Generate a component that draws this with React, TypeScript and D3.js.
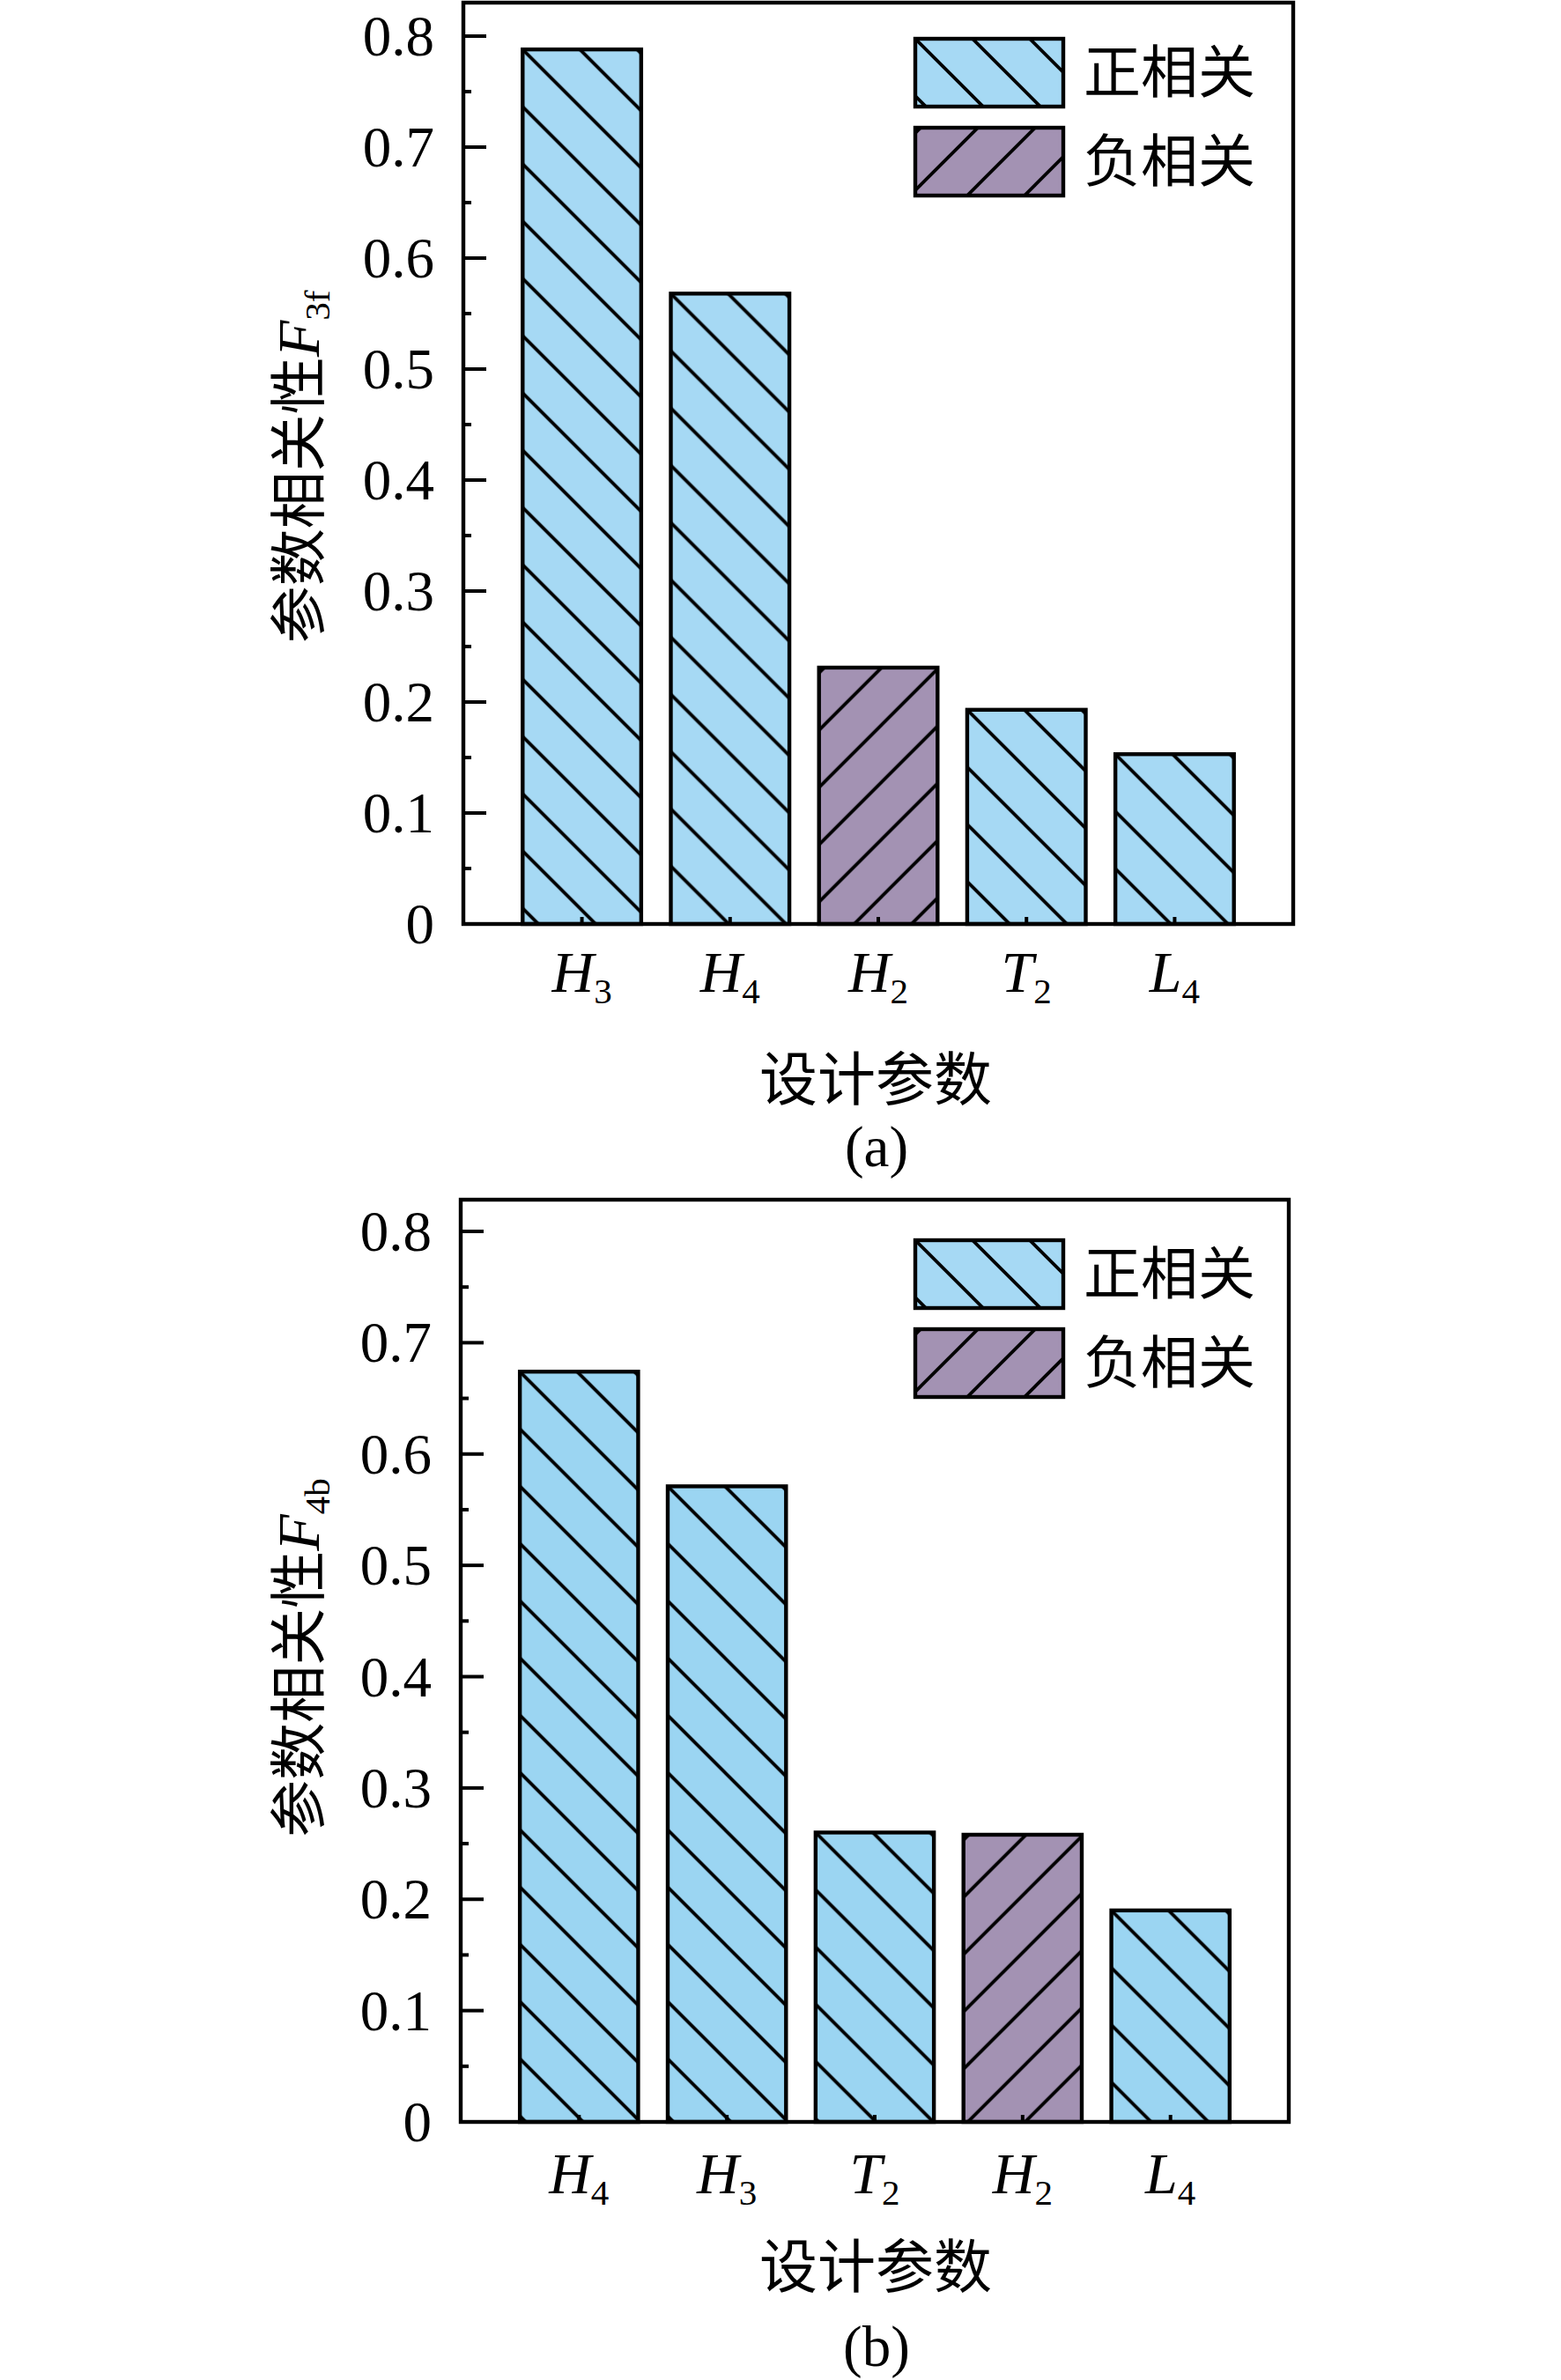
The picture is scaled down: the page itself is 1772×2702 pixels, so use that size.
import { useEffect, useRef } from "react";
import * as d3 from "d3";

// data
const categoriesA = ["H3", "H4", "H2", "T2", "L4"];
const valuesA = [0.788, 0.568, 0.231, 0.193, 0.153];
const signsA = ["pos", "pos", "neg", "pos", "pos"];

const categoriesB = ["H4", "H3", "T2", "H2", "L4"];
const valuesB = [0.674, 0.571, 0.26, 0.258, 0.19];
const signsB = ["pos", "pos", "pos", "neg", "pos"];

const yTicks = [0, 0.1, 0.2, 0.3, 0.4, 0.5, 0.6, 0.7, 0.8];
const yMinorTicks = [0.05, 0.15, 0.25, 0.35, 0.45, 0.55, 0.65, 0.75];
const legendLabels = ["正相关", "负相关"];
const legendSigns = ["pos", "neg"];
const yTitleMain = "参数相关性";
const xTitle = "设计参数";

const SERIF = "'Liberation Serif', 'Times New Roman', serif";
const CJK = "'Noto Sans CJK SC', 'Noto Sans CJK JP', sans-serif";

export default function App() {
  const svgRef = useRef<SVGSVGElement>(null);

  useEffect(() => {
    const svg = d3.select(svgRef.current);
    svg.selectAll("*").remove();
    const defs = svg.append("defs");

    const panels = [
      {
        key: "a", cats: categoriesA, values: valuesA, signs: signsA, sub: "3f", tag: "(a)",
        left: 526, right: 1468, top: 3, axisY: 1049, y08: 41, legendTop: 44,
        catBase: 1126, xTitleY: 1220, tagBase: 1324, yTitleY: 530,
        posColor: "#a6d9f4",
      },
      {
        key: "b", cats: categoriesB, values: valuesB, signs: signsB, sub: "4b", tag: "(b)",
        left: 523, right: 1463, top: 1362, axisY: 2409, y08: 1398, legendTop: 1408,
        catBase: 2490, xTitleY: 2568, tagBase: 2686, yTitleY: 1882,
        posColor: "#9bd5f2",
      },
    ];

    const negColor = "#a392b3";
    const legendPosColor = "#a6d9f4";
    const step = 65;

    // hatch patterns, anchored on each bar's top-left corner
    const makePattern = (id: string, color: string, dir: string) => {
      const p = defs
        .append("pattern")
        .attr("id", id)
        .attr("patternUnits", "userSpaceOnUse")
        .attr("width", step)
        .attr("height", step)
        .attr("x", dir === "back" ? 0 : 6);
      p.append("rect").attr("width", step).attr("height", step).attr("fill", color);
      p.append("path")
        .attr(
          "d",
          dir === "back"
            ? `M0,0L${step},${step}M-10,${step - 10}L10,${step + 10}M${step - 10},-10L${step + 10},10`
            : `M0,${step}L${step},0M-10,10L10,-10M${step - 10},${step + 10}L${step + 10},${step - 10}`
        )
        .attr("stroke", "#000")
        .attr("stroke-width", 3.8);
    };
    makePattern("hatch-neg", negColor, "fwd");
    makePattern("hatch-legend-pos", legendPosColor, "back");

    panels.forEach((pn) => {
      makePattern(`hatch-pos-${pn.key}`, pn.posColor, "back");

      const x = d3.scaleLinear().domain([0.2, 5.8]).range([pn.left, pn.right]);
      const y = d3.scaleLinear().domain([0, 0.8]).range([pn.axisY, pn.y08]);
      const g = svg.append("g");

      // bars
      pn.values.forEach((v, i) => {
        const x0 = x(i + 1 - 0.4);
        const w = x(i + 1 + 0.4) - x0;
        const bg = g.append("g").attr("transform", `translate(${x0},${y(v)})`);
        bg.append("rect")
          .attr("width", w)
          .attr("height", y(0) - y(v))
          .attr("fill", pn.signs[i] === "pos" ? `url(#hatch-pos-${pn.key})` : "url(#hatch-neg)")
          .attr("stroke", "#000")
          .attr("stroke-width", 4.4);
      });

      // y ticks (inward)
      yTicks.forEach((t) => {
        g.append("line")
          .attr("x1", pn.left).attr("x2", pn.left + 26)
          .attr("y1", y(t)).attr("y2", y(t))
          .attr("stroke", "#000").attr("stroke-width", 4);
        g.append("text")
          .attr("x", pn.left - 33)
          .attr("y", y(t) + 22)
          .attr("text-anchor", "end")
          .attr("font-family", SERIF)
          .attr("font-size", 65)
          .text(t === 0 ? "0" : d3.format(".1f")(t));
      });
      yMinorTicks.forEach((t) => {
        g.append("line")
          .attr("x1", pn.left).attr("x2", pn.left + 9)
          .attr("y1", y(t)).attr("y2", y(t))
          .attr("stroke", "#000").attr("stroke-width", 4);
      });

      // x ticks + category labels
      pn.cats.forEach((c, i) => {
        const cx = x(i + 1);
        g.append("line")
          .attr("x1", cx).attr("x2", cx)
          .attr("y1", pn.axisY).attr("y2", pn.axisY - 8)
          .attr("stroke", "#000").attr("stroke-width", 4);
        const t = g.append("text")
          .attr("x", cx)
          .attr("y", pn.catBase)
          .attr("text-anchor", "middle")
          .attr("font-family", SERIF)
          .attr("font-size", 66);
        t.append("tspan").attr("font-style", "italic").text(c.slice(0, 1));
        t.append("tspan").attr("font-size", 41).attr("dy", 13).text(c.slice(1));
      });

      // frame
      g.append("rect")
        .attr("x", pn.left).attr("y", pn.top)
        .attr("width", pn.right - pn.left).attr("height", pn.axisY - pn.top)
        .attr("fill", "none").attr("stroke", "#000").attr("stroke-width", 4.4);

      // legend
      legendLabels.forEach((lab, i) => {
        const ly = pn.legendTop + i * 101;
        const lg = g.append("g").attr("transform", `translate(1039,${ly})`);
        lg.append("rect")
          .attr("width", 168).attr("height", 77)
          .attr("fill", legendSigns[i] === "pos" ? "url(#hatch-legend-pos)" : "url(#hatch-neg)")
          .attr("stroke", "#000").attr("stroke-width", 4.4);
        g.append("text")
          .attr("x", 1230)
          .attr("y", ly + 33)
          .attr("dominant-baseline", "central")
          .attr("font-family", CJK)
          .attr("font-size", 65)
          .text(lab);
      });

      // y title
      const yt = g.append("text")
        .attr("transform", `translate(362,${pn.yTitleY}) rotate(-90)`)
        .attr("text-anchor", "middle")
        .attr("font-size", 65);
      yt.append("tspan").attr("font-family", CJK).text(yTitleMain);
      yt.append("tspan").attr("font-family", SERIF).attr("font-style", "italic").attr("font-size", 68).text("F");
      yt.append("tspan").attr("font-family", SERIF).attr("font-size", 41).attr("dy", 12).text(pn.sub);

      // x title and panel tag
      g.append("text")
        .attr("x", 994).attr("y", pn.xTitleY)
        .attr("text-anchor", "middle")
        .attr("dominant-baseline", "central")
        .attr("font-family", CJK)
        .attr("font-size", 66)
        .text(xTitle);
      g.append("text")
        .attr("x", 995).attr("y", pn.tagBase)
        .attr("text-anchor", "middle")
        .attr("font-family", SERIF)
        .attr("font-size", 65)
        .text(pn.tag);
    });
  }, []);

  return (
    <svg
      ref={svgRef}
      width={1772}
      height={2702}
      style={{ position: "absolute", left: 0, top: 0, background: "#fff" }}
    ></svg>
  );
}
